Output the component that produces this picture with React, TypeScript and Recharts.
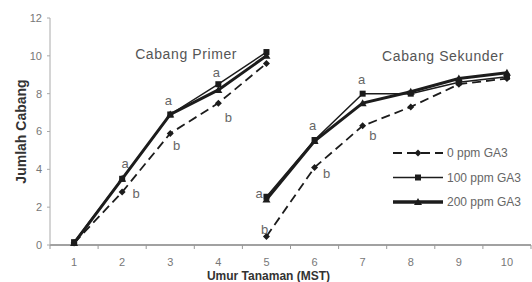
import React from 'react';
import { LineChart, Line, XAxis, YAxis, ReferenceDot, Legend } from 'recharts';

const weeksPrimer = [1, 2, 3, 4, 5];
const weeksSekunder = [5, 6, 7, 8, 9, 10];

const primer0 = [0.1, 2.8, 5.9, 7.5, 9.6];
const primer100 = [0.15, 3.5, 6.9, 8.5, 10.2];
const primer200 = [0.1, 3.5, 6.9, 8.2, 10.0];

const sekunder0 = [0.45, 4.1, 6.3, 7.3, 8.5, 8.8];
const sekunder100 = [2.55, 5.55, 8.0, 8.0, 8.6, 8.9];
const sekunder200 = [2.4, 5.5, 7.5, 8.1, 8.8, 9.1];

const seriesNames = ['0 ppm GA3', '100 ppm GA3', '200 ppm GA3'];

const xTicks = [1, 2, 3, 4, 5, 6, 7, 8, 9, 10];
const yTicks = [0, 2, 4, 6, 8, 10, 12];

// significance letters, placed in data units
const letters = ['a', 'b', 'a', 'b', 'a', 'b', 'a', 'b', 'a', 'b', 'a', 'b'];
const letterX = [2.06, 2.29, 2.96, 3.13, 3.96, 4.21, 4.85, 4.96, 5.96, 6.25, 6.98, 7.21];
const letterY = [4.34, 2.75, 7.67, 5.29, 9.1, 6.77, 2.75, 0.8, 6.3, 3.8, 8.78, 5.82];

const groupTitles = ['Cabang Primer', 'Cabang Sekunder'];
const groupTitleX = [3.33, 8.67];
const groupTitleY = [10.1, 10.0];

const W = 532;
const H = 282;
const MARGIN = { top: 18, right: 1, bottom: 0, left: 0 };
const Y_W = 50;
const X_H = 37;
const HALF = (W - MARGIN.left - MARGIN.right - Y_W) / 10 / 2;

const INK = '#1c1c1c';
const FONT = '"Liberation Sans", Arial, sans-serif';

const rows = (xs: number[], ys: number[]) => xs.map((x, i) => ({ x, v: ys[i] }));

const Diamond = (p: any) => {
  const { cx, cy } = p;
  if (cx == null || cy == null) return <g key={p.key} />;
  const r = 3.5;
  return <path key={p.key} d={`M${cx},${cy - r}L${cx + r},${cy}L${cx},${cy + r}L${cx - r},${cy}Z`} fill={INK} />;
};

const Square = (p: any) => {
  const { cx, cy } = p;
  if (cx == null || cy == null) return <g key={p.key} />;
  return <rect key={p.key} x={cx - 3} y={cy - 3} width={6} height={6} fill={INK} />;
};

const Triangle = (p: any) => {
  const { cx, cy } = p;
  if (cx == null || cy == null) return <g key={p.key} />;
  return <path key={p.key} d={`M${cx},${cy - 4}L${cx + 4},${cy + 3}L${cx - 4},${cy + 3}Z`} fill={INK} />;
};

const XTick = (props: any) => {
  const { x, y, payload } = props;
  return (
    <g>
      <line x1={x - HALF} x2={x - HALF} y1={y - 10} y2={y - 6} stroke="#999" />
      {payload.value === xTicks[xTicks.length - 1] && (
        <line x1={x + HALF} x2={x + HALF} y1={y - 10} y2={y - 6} stroke="#999" />
      )}
      <text x={x} y={y + 11} textAnchor="middle" fontSize={11} fill="#777" fontFamily={FONT}>
        {payload.value}
      </text>
    </g>
  );
};

const XTitle = (props: any) => {
  const vb = props.viewBox;
  return (
    <text
      x={vb.x + vb.width / 2 - 22}
      y={vb.y + 35}
      textAnchor="middle"
      fontSize={12}
      fontWeight="bold"
      fill="#333"
      fontFamily={FONT}
    >
      Umur Tanaman (MST)
    </text>
  );
};

const YTitle = (props: any) => {
  const vb = props.viewBox;
  const cx = 21;
  const cy = vb.y + vb.height / 2;
  return (
    <text
      x={cx}
      y={cy}
      transform={`rotate(-90, ${cx}, ${cy})`}
      textAnchor="middle"
      dominantBaseline="central"
      fontSize={14}
      fontWeight="bold"
      fill="#333"
      fontFamily={FONT}
    >
      Jumlah Cabang
    </text>
  );
};

const LegendBox = () => {
  const markers = [Diamond, Square, Triangle];
  return (
    <svg width={140} height={72}>
      {seriesNames.map((name, i) => {
        const y = 10 + i * 24.5;
        const M = markers[i];
        return (
          <g key={name}>
            <line
              x1={0}
              x2={50}
              y1={y}
              y2={y}
              stroke={INK}
              strokeWidth={i === 2 ? 3.5 : i === 0 ? 1.8 : 1.5}
              strokeDasharray={i === 0 ? '9 5' : undefined}
            />
            {M({ cx: 25, cy: y, key: name })}
            <text x={54} y={y} dominantBaseline="central" fontSize={12} fill="#666" fontFamily={FONT}>
              {name}
            </text>
          </g>
        );
      })}
    </svg>
  );
};

const lines = [
  { key: 'p0', data: rows(weeksPrimer, primer0), dot: Diamond, width: 1.8, dash: '9 5' },
  { key: 'p100', data: rows(weeksPrimer, primer100), dot: Square, width: 1.5, dash: undefined },
  { key: 'p200', data: rows(weeksPrimer, primer200), dot: Triangle, width: 3, dash: undefined },
  { key: 's0', data: rows(weeksSekunder, sekunder0), dot: Diamond, width: 1.8, dash: '9 5' },
  { key: 's100', data: rows(weeksSekunder, sekunder100), dot: Square, width: 1.5, dash: undefined },
  { key: 's200', data: rows(weeksSekunder, sekunder200), dot: Triangle, width: 3, dash: undefined },
];

export default function App() {
  return (
    <div style={{ position: 'absolute', left: 0, top: 0, width: W, height: H, background: '#fff' }}>
      <LineChart width={W} height={H} margin={MARGIN}>
        <XAxis
          type="number"
          dataKey="x"
          domain={[0.5, 10.5]}
          ticks={xTicks}
          interval={0}
          height={X_H}
          tickSize={4}
          tickMargin={6}
          tickLine={false}
          tick={<XTick />}
          axisLine={{ stroke: '#444', strokeWidth: 1.2 }}
          label={<XTitle />}
        />
        <YAxis
          type="number"
          domain={[0, 12]}
          ticks={yTicks}
          interval={0}
          width={Y_W}
          tickSize={3}
          tickMargin={5}
          tickLine={{ stroke: '#aaa' }}
          axisLine={{ stroke: '#aaa' }}
          tick={{ fontSize: 11, fill: '#777', fontFamily: FONT }}
          label={<YTitle />}
        />
        {lines.map((l) => (
          <Line
            key={l.key}
            data={l.data}
            dataKey="v"
            type="linear"
            stroke={INK}
            strokeWidth={l.width}
            strokeDasharray={l.dash}
            dot={l.dot}
            activeDot={false}
            isAnimationActive={false}
          />
        ))}
        {letters.map((t, i) => (
          <ReferenceDot
            key={`l${i}`}
            x={letterX[i]}
            y={letterY[i]}
            r={0}
            fill="none"
            stroke="none"
            label={{ value: t, position: 'center', fontSize: 13, fill: '#666', fontFamily: FONT }}
          />
        ))}
        {groupTitles.map((t, i) => (
          <ReferenceDot
            key={`g${i}`}
            x={groupTitleX[i]}
            y={groupTitleY[i]}
            r={0}
            fill="none"
            stroke="none"
            label={{ value: t, position: 'center', fontSize: 14, fill: '#555', fontFamily: FONT, letterSpacing: 0.6 }}
          />
        ))}
        <Legend
          layout="vertical"
          align="center"
          verticalAlign="middle"
          content={<LegendBox />}
          wrapperStyle={{ position: 'absolute', left: 393, top: 143, width: 140, height: 72 }}
        />
      </LineChart>
    </div>
  );
}
